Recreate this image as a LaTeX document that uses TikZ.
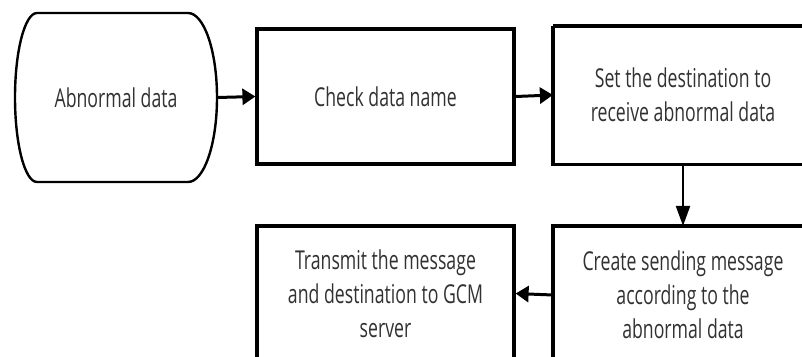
\documentclass[tikz,border=0pt]{standalone}
\usepackage{fontspec}
\setmainfont{Open Sans}[FakeStretch=0.68]
\usetikzlibrary{arrows.meta}
\definecolor{txt}{RGB}{50,50,50}
\tikzset{
  boxline/.style={draw=black, line width=3.2pt},
  stepbox/.style={boxline, fill=white, minimum width=257pt, minimum height=135pt,
    align=center, text=txt, font=\fontsize{26}{34}\selectfont, inner sep=0pt},
  textbox/.style={stepbox, draw=none, fill=none},
  conn/.style={line width=3pt, -{Triangle[length=13pt,width=16pt]}},
  vconn/.style={line width=2.2pt, -{Triangle[length=20pt,width=14pt]}}
}
\begin{document}
\begin{tikzpicture}[x=1pt,y=-1pt]
\useasboundingbox (0,0) rectangle (802,356);
% terminal
\draw[line width=2.4pt] (37,13) -- (188,13)
  arc[start angle=-90, end angle=90, x radius=29, y radius=84.5]
  -- (37,182)
  arc[start angle=90, end angle=270, x radius=22, y radius=84.5] -- cycle;
\node[text=txt, font=\fontsize{26}{34}\selectfont, minimum width=202pt, minimum height=169pt, inner sep=0pt] (a) at (116,97.5) {Abnormal data};
\node[stepbox] (b) at (385.5,96.5) {Check data name};
\node[textbox] (c) at (683,95) {Set the destination to\\receive abnormal data};
\node[textbox] (d) at (683,295) {Create sending message\\according to the\\abnormal data};
\draw[boxline] (c.north west) -- (c.north east) -- ([xshift=40pt]c.north east);
\draw[boxline] ([xshift=40pt]c.south east) -- (c.south west) -- (c.north west);
\draw[boxline] ([xshift=40pt]d.north east) -- (d.north west) -- ([yshift=-10pt]d.south west);
\node[stepbox] (e) at (385.5,293.5) {Transmit the message\\and destination to GCM\\server};
\draw[conn] (a.east) -- (b.west);
\draw[conn] (b.east) -- (c.west);
\draw[vconn] (c.south) -- (d.north);
\draw[conn] (d.west) -- (e.east);
\end{tikzpicture}
\end{document}
